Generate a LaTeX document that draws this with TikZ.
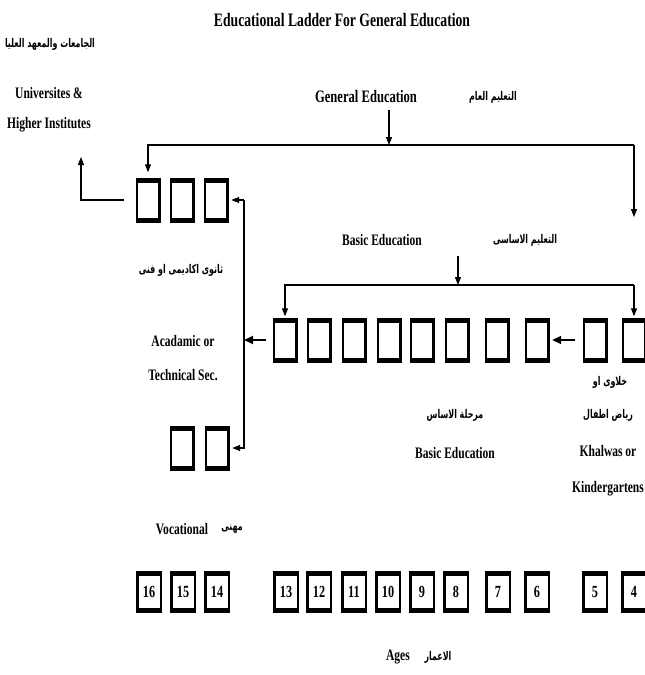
\documentclass[tikz,border=0pt]{standalone}
\usepackage{fontspec}
\setmainfont[FakeStretch=0.72]{Liberation Serif}
\newfontfamily\arabicfont[Script=Arabic,FakeStretch=0.66]{DejaVu Sans}
\TeXXeTstate=1
\usetikzlibrary{arrows.meta}

\tikzset{
  grade/.style={fill=black, inner sep=0pt, minimum width=25pt, minimum height=45pt,
    path picture={\fill[white] ([xshift=2.5pt,yshift=5pt]path picture bounding box.south west)
      rectangle ([xshift=-2.5pt,yshift=-5pt]path picture bounding box.north east);}},
  age/.style={grade, minimum width=26pt, minimum height=42pt, font=\bfseries\fontsize{17}{17}\selectfont},
  lbl/.style={font=\bfseries\fontsize{16}{34}\selectfont, align=center, inner sep=0pt},
  albl/.style={font=\arabicfont\bfseries\fontsize{12}{14}\selectfont, inner sep=0pt},
  link/.style={line width=1.2pt, -{Triangle[length=8pt,width=6pt]}},
  bigarrow/.style={line width=2pt, -{Triangle[length=9pt,width=8pt]}}
}

\begin{document}
\begin{tikzpicture}[x=1pt, y=-1pt]
\useasboundingbox (0,0) rectangle (645,675);

% titles and labels
\node[lbl, font=\bfseries\fontsize{19}{22}\selectfont] (title) at (342,20) {Educational Ladder For General Education};
\node[albl] (univar) at (50,44) {\beginR الجامعات والمعهد العليا\endR};
\node[lbl, font=\bfseries\fontsize{16}{30}\selectfont] (univ) at (49,110) {Universites \&\\Higher Institutes};
\node[lbl, font=\bfseries\fontsize{17.5}{20}\selectfont] (gened) at (366,97) {General Education};
\node[albl] (genedar) at (493,97) {\beginR التعليم العام\endR};
\node[lbl] (basic) at (382,240) {Basic Education};
\node[albl] (basicar) at (525,240) {\beginR التعليم الاساسى\endR};
\node[albl] (secar) at (181,270) {\beginR ثانوى اكاديمى او فنى\endR};
\node[lbl] (sec) at (183,358) {Acadamic or\\Technical Sec.};
\node[albl] (stagear) at (455,415) {\beginR مرحلة الاساس\endR};
\node[lbl] (stage) at (455,453) {Basic Education};
\node[albl] (kgar1) at (610,382) {\beginR خلاوى او\endR};
\node[albl] (kgar2) at (608,415) {\beginR رياض اطفال\endR};
\node[lbl, font=\bfseries\fontsize{16}{36}\selectfont] (kg) at (608,471) {Khalwas or\\Kindergartens};
\node[lbl] (voc) at (182,529) {Vocational};
\node[albl] (vocar) at (232,529) {\beginR مهنى\endR};
\node[lbl] (ages) at (398,657) {Ages};
\node[albl] (agesar) at (438,657) {\beginR الاعمار\endR};

% the ladder
\foreach \x [count=\i] in {148,182,216}
  \node[grade] (s\i) at (\x,200) {};
\foreach \x [count=\i] in {182,217}
  \node[grade] (v\i) at (\x,448) {};
\foreach \x [count=\i] in {285,319,354,389,422,457,497,537}
  \node[grade] (b\i) at (\x,340) {};
\foreach \x [count=\i] in {595,634}
  \node[grade] (k\i) at (\x,340) {};
\foreach \x/\a in {149/16,183/15,217/14,286/13,319/12,354/11,388/10,422/9,456/8,498/7,537/6,595/5,634/4}
  \node[age] (a\a) at (\x,592) {\a};

% general education
\coordinate (gtop) at (389,110);
\coordinate (gmid) at (389,145);
\coordinate (gl) at (148,145);
\coordinate (gr) at (634,145);
\coordinate (gend) at (634,217);
\draw[link] (gtop) -- (gmid);
\draw[link, shorten >=5pt] (gr) -- (gl) -- (s1.north);
\draw[link] (gr) -- (gend);

% universities
\coordinate (ucorner) at (81,200);
\coordinate (utip) at (81,157);
\draw[link, shorten <=11pt] (s1.west) -- (ucorner) -- (utip);

% secondary branches
\coordinate (vtop) at (244,200);
\coordinate (vbot) at (244,448);
\draw[link, shorten >=2.5pt] (vtop) -- (s3.east);
\draw[link, shorten >=2.5pt] (vtop) -- (vbot) -- (v2.east);
\draw[bigarrow, shorten <=6pt] (b1.west) -- (b1.west -| vtop);

% basic education
\coordinate (btop) at (458,256);
\coordinate (bmid) at (458,285);
\coordinate (bl) at (285,285);
\coordinate (br) at (634,285);
\draw[link] (btop) -- (bmid);
\draw[link, shorten >=1pt] (br) -- (bl) -- (b1.north);
\draw[link, shorten >=1pt] (br) -- (k2.north);
\draw[bigarrow, shorten <=7pt, shorten >=2.5pt] (k1.west) -- (b8.east);
\end{tikzpicture}
\end{document}
